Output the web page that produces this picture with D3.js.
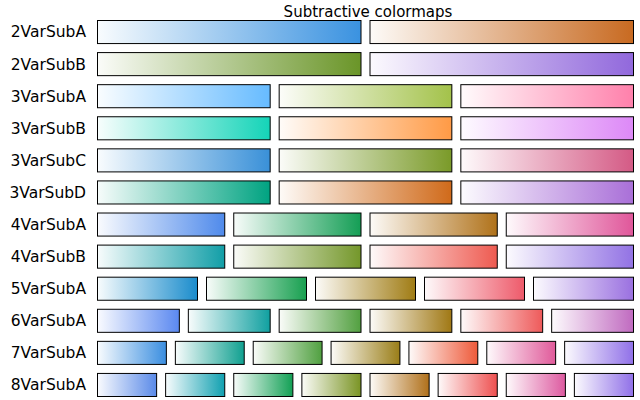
<!DOCTYPE html>
<html><head><meta charset="utf-8">
<script src="https://cdn.jsdelivr.net/npm/d3@7"></script>
<style>body{margin:0;background:#fff}</style></head>
<body><svg id="c" width="640" height="400"></svg>
<script>
const names = ["2VarSubA","2VarSubB","3VarSubA","3VarSubB","3VarSubC","3VarSubD","4VarSubA","4VarSubB","5VarSubA","6VarSubA","7VarSubA","8VarSubA"];
const endColors = [
 ["#3a92e0","#c86a21"],
 ["#6a9528","#9168dc"],
 ["#66bbff","#a3c24a","#ff80ab"],
 ["#14d4b8","#ff9a45","#dd88f7"],
 ["#3990d8","#7a9a28","#d45a85"],
 ["#00a381","#d06a1a","#a96fd8"],
 ["#4f8aeb","#149e55","#b0721a","#e0569a"],
 ["#119ea7","#74972a","#ee5a50","#9272e4"],
 ["#1a8ccc","#18a050","#a07c14","#ee5a6a","#9a70e0"],
 ["#5a88f0","#10a0a0","#52a040","#a07814","#ee5a5a","#c06ac0"],
 ["#3a8ee0","#10a090","#50a040","#9a7e18","#ee5a3a","#e05a9a","#9070e8"],
 ["#5a8ae8","#10a0b0","#12a055","#7a9424","#b0701a","#ee5050","#dd5aa0","#9070e8"]
];
const svg = d3.select("#c");
const x0 = 97, x1 = 634, gap = 8;
const y = d3.scaleBand().domain(names).range([20, 397]).paddingInner(0.25).paddingOuter(0);
const defs = svg.append("defs");
svg.append("text").attr("x", 368).attr("y", 17).attr("text-anchor","middle")
  .attr("font-family","DejaVu Sans").attr("font-size",15).text("Subtractive colormaps");
names.forEach((nm, i) => {
  const cols = endColors[i];
  const n = cols.length;
  const w = (x1 - x0 - gap*(n-1))/n;
  const xs = d3.scaleLinear().domain([0,n]).range([x0, x1 + gap]);
  svg.append("text").attr("x", 86).attr("y", y(nm)+y.bandwidth()/2).attr("dy","0.35em")
    .attr("text-anchor","end").attr("font-family","DejaVu Sans").attr("font-size",15.5).text(nm);
  cols.forEach((c, j) => {
    const id = `g${i}_${j}`;
    const g = defs.append("linearGradient").attr("id", id);
    g.append("stop").attr("offset","0%").attr("stop-color", d3.interpolateRgb("#ffffff", c)(0.03));
    g.append("stop").attr("offset","100%").attr("stop-color", c);
    svg.append("rect").attr("x", xs(j)+0.5).attr("y", y(nm)+0.5).attr("width", w-1).attr("height", y.bandwidth()-1)
      .attr("fill", `url(#${id})`).attr("stroke","#000").attr("stroke-width",1);
  });
});
</script></body></html>
